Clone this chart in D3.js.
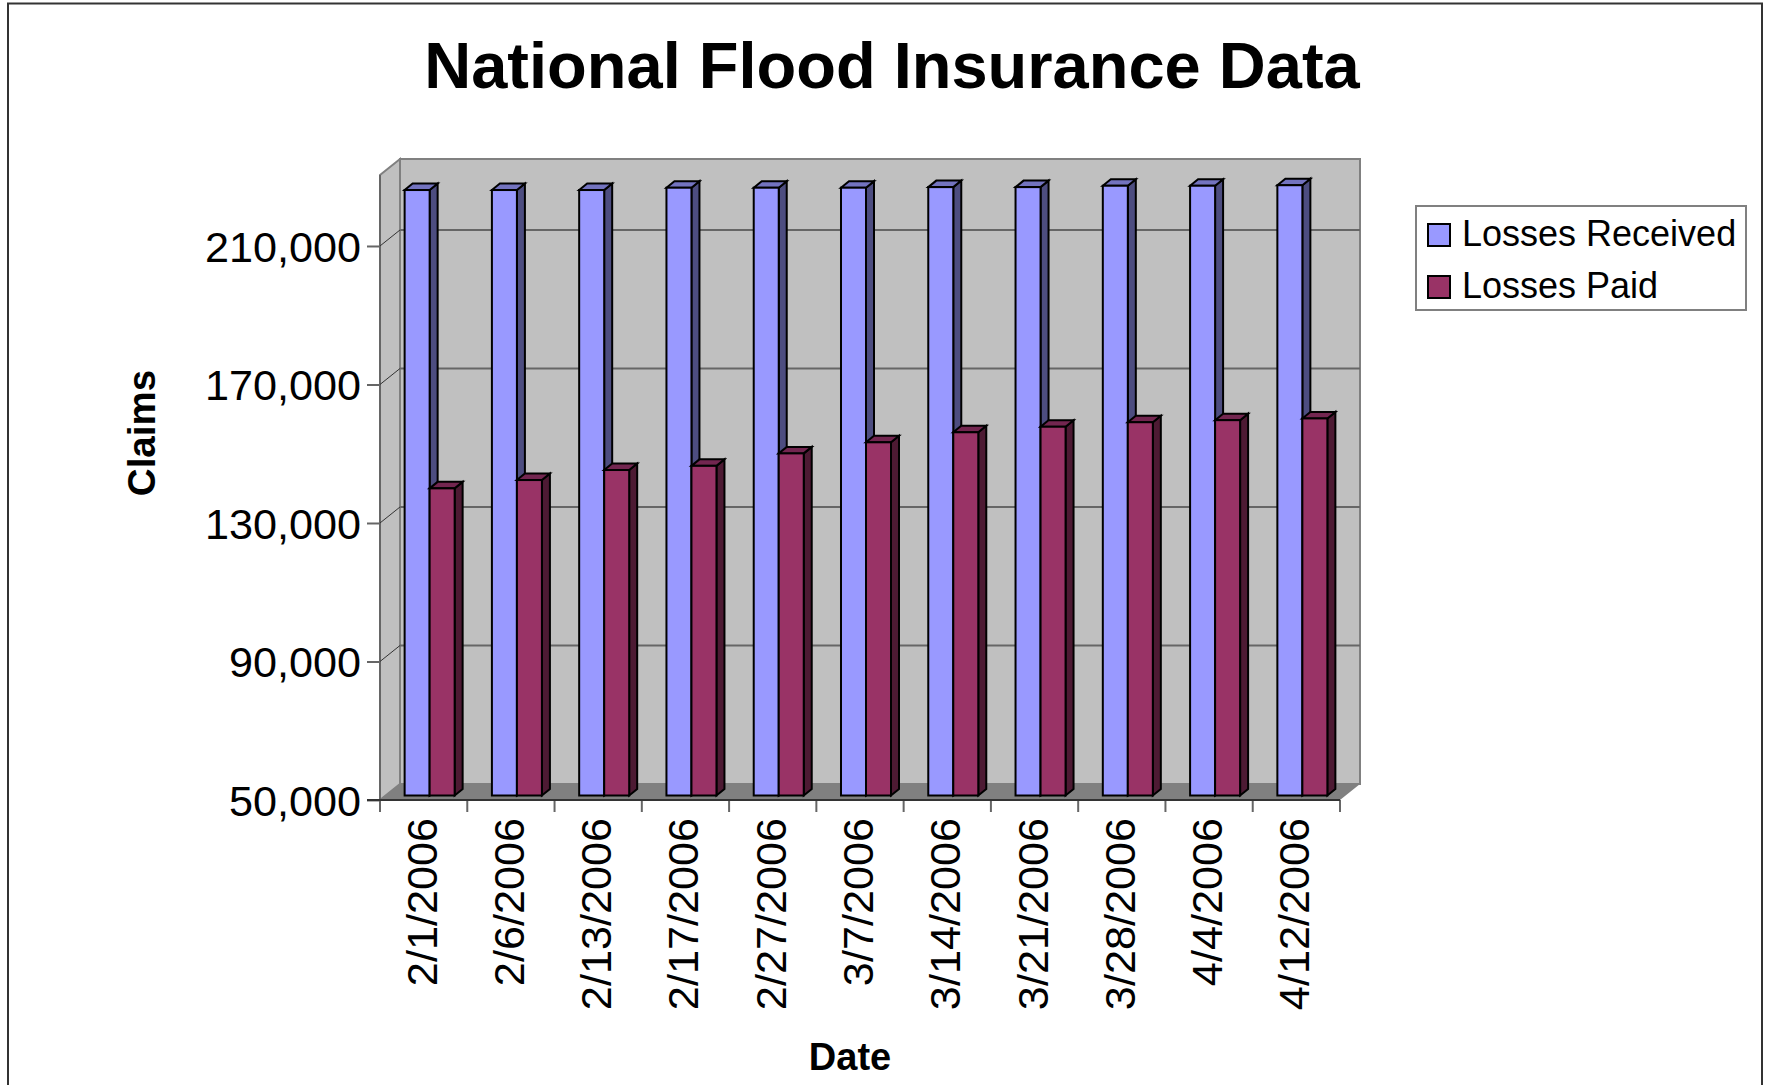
<!DOCTYPE html>
<html>
<head>
<meta charset="utf-8">
<script src="https://cdn.jsdelivr.net/npm/d3@7"></script>
<style>
body { margin: 0; background: #fff; }
text { font-family: "Liberation Sans", Arial, sans-serif; fill: #000; }
</style>
</head>
<body>
<svg id="chart" width="1768" height="1085"></svg>
<script>
var dates = ["2/1/2006", "2/6/2006", "2/13/2006", "2/17/2006", "2/27/2006", "3/7/2006",
             "3/14/2006", "3/21/2006", "3/28/2006", "4/4/2006", "4/12/2006"]
var lossesReceived = [224860, 224860, 224860, 225530, 225530, 225530, 225700, 225700, 226100, 226100, 226250]
var lossesPaid = [138700, 141100, 144000, 145200, 148800, 152000, 154900, 156500, 157800, 158400, 158900]
var yTicks = [50000, 90000, 130000, 170000, 210000]
var seriesNames = ["Losses Received", "Losses Paid"]
var seriesValues = [lossesReceived, lossesPaid]

var dimensions = { left: 380, right: 1340, top: 175, bottom: 800 }
var wall = { dx: 20, dy: -16 }     // depth of the 3d box
var barDepth = { dx: 8, dy: -6.5 } // depth of one bar
var barShift = { dx: 6, dy: -4.5 } // bars stand in the middle of the floor
var colors = [
    { front: "#9999ff", top: "#7373bf", side: "#4d4d80" },
    { front: "#993366", top: "#732650", side: "#4d1a33" }
]

var svg = d3.select("#chart")

var xScale = d3.scaleBand()
    .domain(dates)
    .range([dimensions.left, dimensions.right])
    .paddingInner(0.427)
    .paddingOuter(0.2135)

var seriesScale = d3.scaleBand()
    .domain([0, 1])
    .range([0, xScale.bandwidth()])

var yScale = d3.scaleLinear()
    .domain([50000, 230500])
    .range([dimensions.bottom, dimensions.top])

function pts(list) {
    return list.map(p => p.join(",")).join(" ")
}

//page border, runs off the bottom of the picture
svg.append("path")
    .attr("d", d3.line()([[8, 1100], [8, 3.5], [1762, 3.5], [1762, 1100]]))
    .attr("fill", "none")
    .attr("stroke", "#333")
    .attr("stroke-width", 2)

//back wall, side wall, floor
var l = dimensions.left, r = dimensions.right, t = dimensions.top, b = dimensions.bottom
svg.append("polygon")
    .attr("points", pts([[l + wall.dx, t + wall.dy], [r + wall.dx, t + wall.dy], [r + wall.dx, b + wall.dy], [l + wall.dx, b + wall.dy]]))
    .attr("fill", "#c0c0c0").attr("stroke", "#808080").attr("stroke-width", 2)
svg.append("polygon")
    .attr("points", pts([[l, t], [l + wall.dx, t + wall.dy], [l + wall.dx, b + wall.dy], [l, b]]))
    .attr("fill", "#c0c0c0").attr("stroke", "#808080").attr("stroke-width", 2)
svg.append("line")
    .attr("x1", l).attr("x2", l).attr("y1", t).attr("y2", b)
    .attr("stroke", "#666").attr("stroke-width", 2)
svg.append("polygon")
    .attr("points", pts([[l, b], [l + wall.dx, b + wall.dy], [r + wall.dx, b + wall.dy], [r, b]]))
    .attr("fill", "#808080")

//gridlines on the walls
yTicks.slice(1).forEach(function(v) {
    svg.append("line")
        .attr("x1", l + wall.dx).attr("x2", r + wall.dx)
        .attr("y1", yScale(v) + wall.dy).attr("y2", yScale(v) + wall.dy)
        .attr("stroke", "#666").attr("stroke-width", 2)
    svg.append("line")
        .attr("x1", l).attr("x2", l + wall.dx)
        .attr("y1", yScale(v)).attr("y2", yScale(v) + wall.dy)
        .attr("stroke", "#333").attr("stroke-width", 1)
})

//bars
dates.forEach(function(date, i) {
    seriesValues.forEach(function(values, s) {
        var x0 = xScale(date) + seriesScale(s) + barShift.dx
        var x1 = x0 + seriesScale.bandwidth()
        var y0 = yScale(values[i]) + barShift.dy
        var y1 = yScale(50000) + barShift.dy
        var d = barDepth
        var g = svg.append("g")
            .attr("stroke", "#000").attr("stroke-width", 2).attr("stroke-linejoin", "miter")
        g.append("polygon")
            .attr("points", pts([[x1, y0], [x1 + d.dx, y0 + d.dy], [x1 + d.dx, y1 + d.dy], [x1, y1]]))
            .attr("fill", colors[s].side)
        g.append("polygon")
            .attr("points", pts([[x0, y0], [x0 + d.dx, y0 + d.dy], [x1 + d.dx, y0 + d.dy], [x1, y0]]))
            .attr("fill", colors[s].top)
        g.append("rect")
            .attr("x", x0).attr("y", y0)
            .attr("width", x1 - x0).attr("height", y1 - y0)
            .attr("fill", colors[s].front)
    })
})

//y axis
var yAxis = svg.append("g")
    .attr("transform", `translate(${l},0)`)
    .call(d3.axisLeft(yScale).tickValues(yTicks).tickFormat(d3.format(",")).tickSize(13).tickPadding(6))
yAxis.select(".domain").remove()
yAxis.selectAll("line").attr("stroke", "#666").attr("stroke-width", 2)
yAxis.selectAll("text")
    .attr("font-size", 43.2).attr("dy", "0.35em").attr("font-family", null)

//x axis, labels come from the band axis, ticks sit between the bands
var xAxis = svg.append("g")
    .attr("transform", `translate(0,${b})`)
    .call(d3.axisBottom(xScale).tickSize(0))
xAxis.select(".domain").remove()
xAxis.selectAll("text")
    .attr("font-size", 43.2)
    .attr("font-family", null)
    .attr("text-anchor", "end")
    .attr("transform", "translate(13,18) rotate(-90)")
    .attr("x", 0).attr("y", 0).attr("dy", 0)

var step = xScale.step()
dates.concat([""]).forEach(function(_, i) {
    svg.append("line")
        .attr("x1", l + i * step).attr("x2", l + i * step)
        .attr("y1", b).attr("y2", b + 12)
        .attr("stroke", "#666").attr("stroke-width", 2)
})
svg.append("line")
    .attr("x1", l - 13).attr("x2", r).attr("y1", b).attr("y2", b)
    .attr("stroke", "#333").attr("stroke-width", 2)

//titles
svg.append("text").attr("x", 892).attr("y", 88)
    .attr("text-anchor", "middle").attr("font-size", 65).attr("font-weight", "bold")
    .text("National Flood Insurance Data")
svg.append("text").attr("x", 850).attr("y", 1070)
    .attr("text-anchor", "middle").attr("font-size", 38).attr("font-weight", "bold")
    .text("Date")
svg.append("text")
    .attr("transform", "translate(155,433) rotate(-90)")
    .attr("text-anchor", "middle").attr("font-size", 38.5).attr("font-weight", "bold")
    .text("Claims")

//legend
svg.append("rect")
    .attr("x", 1416).attr("y", 206).attr("width", 330).attr("height", 104)
    .attr("fill", "#fff").attr("stroke", "#808080").attr("stroke-width", 2)
seriesNames.forEach(function(name, s) {
    svg.append("rect")
        .attr("x", 1428).attr("y", 224 + s * 52).attr("width", 22).attr("height", 22)
        .attr("fill", colors[s].front).attr("stroke", "#000").attr("stroke-width", 2)
    svg.append("text")
        .attr("x", 1462).attr("y", 246 + s * 52)
        .attr("font-size", 36)
        .text(name)
})
</script>
</body>
</html>
